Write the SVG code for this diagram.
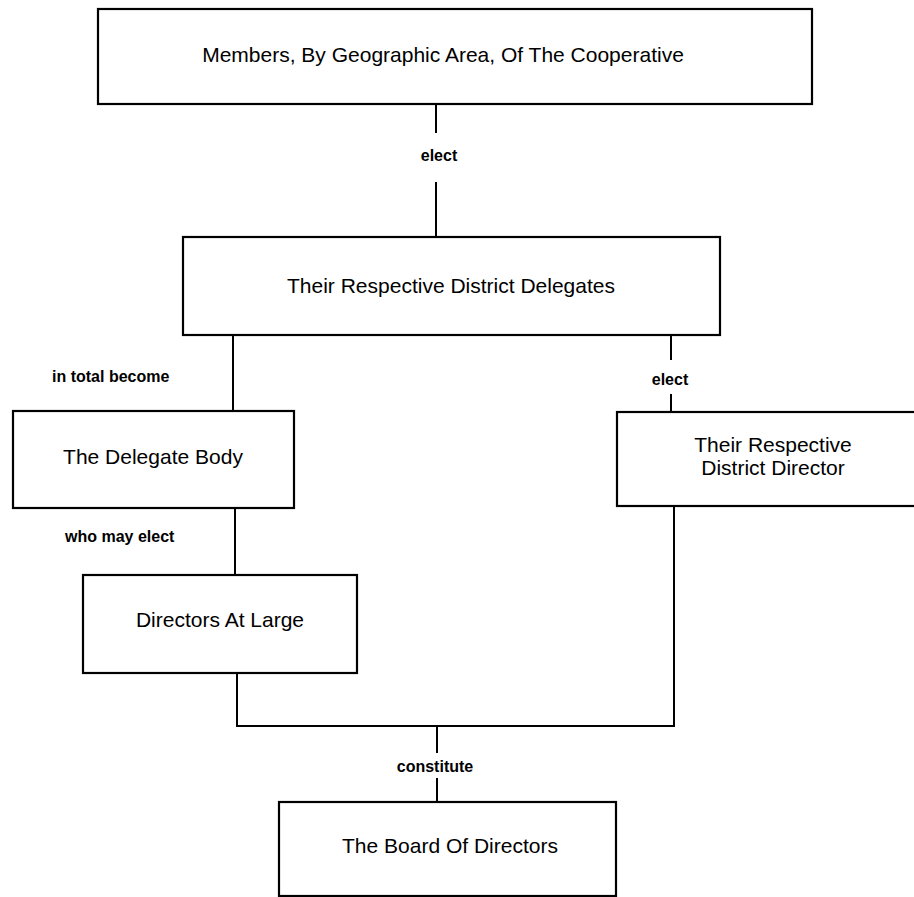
<svg xmlns="http://www.w3.org/2000/svg" width="914" height="897" viewBox="0 0 914 897">
  <style>
    .box { fill: #ffffff; stroke: #000000; stroke-width: 2.2; }
    .conn { fill: none; stroke: #000000; stroke-width: 2; }
    .lbl { font-family: "Liberation Sans", Arial, Helvetica, sans-serif; font-size: 21px; fill: #000000; text-anchor: middle; }
    .edge { font-family: "Liberation Sans", Arial, Helvetica, sans-serif; font-size: 16px; font-weight: bold; fill: #000000; }
    .mid { text-anchor: middle; }
  </style>
  <rect width="914" height="897" fill="#ffffff"/>

  <g id="connectors">
    <line class="conn" x1="436" y1="104" x2="436" y2="133"/>
    <line class="conn" x1="436" y1="182" x2="436" y2="237"/>
    <line class="conn" x1="233" y1="335" x2="233" y2="411"/>
    <line class="conn" x1="235" y1="508" x2="235" y2="575"/>
    <line class="conn" x1="671" y1="335" x2="671" y2="360"/>
    <line class="conn" x1="671" y1="394" x2="671" y2="412"/>
    <polyline class="conn" points="237,673 237,726 674,726 674,506"/>
    <line class="conn" x1="437" y1="726" x2="437" y2="753"/>
    <line class="conn" x1="437" y1="778" x2="437" y2="802"/>
    <text class="edge mid" x="439" y="161">elect</text>
    <text class="edge" x="52" y="382">in total become</text>
    <text class="edge" x="65" y="542">who may elect</text>
    <text class="edge mid" x="670" y="385">elect</text>
    <text class="edge mid" x="435" y="772">constitute</text>
  </g>

  <g id="members">
    <rect class="box" x="98" y="9" width="714" height="95"/>
    <text class="lbl" x="443" y="62">Members, By Geographic Area, Of The Cooperative</text>
  </g>

  <g id="delegates">
    <rect class="box" x="183" y="237" width="537" height="98"/>
    <text class="lbl" x="451" y="293">Their Respective District Delegates</text>
  </g>

  <g id="delegate-body">
    <rect class="box" x="13" y="411" width="281" height="97"/>
    <text class="lbl" x="153" y="464">The Delegate Body</text>
  </g>

  <g id="district-director">
    <rect class="box" x="617" y="412" width="320" height="94"/>
    <text class="lbl" x="773" y="452">Their Respective</text>
    <text class="lbl" x="773" y="475">District Director</text>
  </g>

  <g id="directors-at-large">
    <rect class="box" x="83" y="575" width="274" height="98"/>
    <text class="lbl" x="220" y="627">Directors At Large</text>
  </g>

  <g id="board">
    <rect class="box" x="279" y="802" width="337" height="94"/>
    <text class="lbl" x="450" y="853">The Board Of Directors</text>
  </g>
</svg>
